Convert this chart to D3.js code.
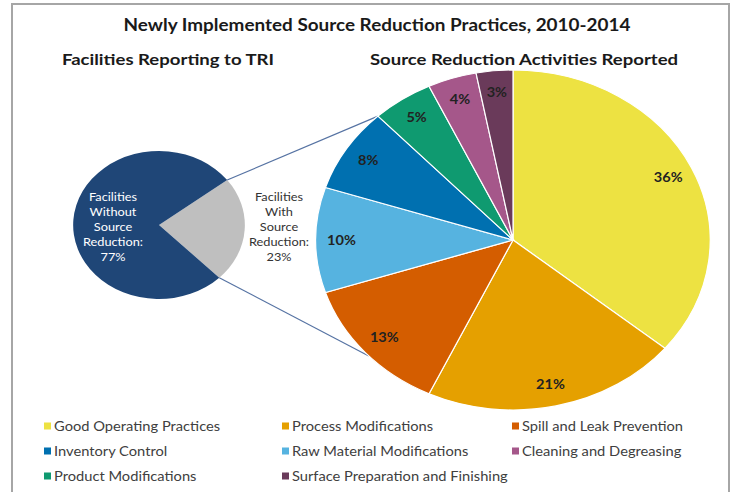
<!DOCTYPE html>
<html>
<head>
<meta charset="utf-8">
<script src="https://cdn.jsdelivr.net/npm/d3@7"></script>
<style>
  body { margin: 0; background: #fff; }
  text { font-family: Lato, "Open Sans", sans-serif; }
</style>
</head>
<body>
<script>
// ---------------------------------------------------------------
//  DATA
// ---------------------------------------------------------------
// big pie, in drawing order (clockwise from 12 o'clock)
var activities = ["Good Operating Practices", "Process Modifications", "Spill and Leak Prevention",
                  "Raw Material Modifications", "Inventory Control", "Product Modifications",
                  "Cleaning and Degreasing", "Surface Preparation and Finishing"];
var activityPct = [36, 21, 13, 10, 8, 5, 4, 3];
var activityColors = ["#ede242", "#e5a000", "#d45d00", "#56b3e0", "#0070b0", "#0f9a70", "#a5578a", "#6a3a5a"];

// legend order (row by row, 3 per row)
var legendOrder = ["Good Operating Practices", "Process Modifications", "Spill and Leak Prevention",
                   "Inventory Control", "Raw Material Modifications", "Cleaning and Degreasing",
                   "Product Modifications", "Surface Preparation and Finishing"];

// small pie
var facilityLabels = [["Facilities", "With", "Source", "Reduction:", "23%"],
                      ["Facilities", "Without", "Source", "Reduction:", "77%"]];
var facilityPct = [23, 77];
var facilityColors = ["#bfbfbf", "#1f4677"];

var title = "Newly Implemented Source Reduction Practices, 2010-2014";
var subLeft = "Facilities Reporting to TRI";
var subRight = "Source Reduction Activities Reported";

// ---------------------------------------------------------------
//  SETUP
// ---------------------------------------------------------------
var W = 734, H = 492;
var sx = 1.16; // the original picture is stretched sideways

var svg = d3.select("body").append("svg")
    .attr("width", W)
    .attr("height", H);

// puts a text at x,y and widens it like the rest of the picture
function place(x, y, k) {
    return "translate(" + x + "," + y + ") scale(" + (k || sx) + ",1)";
}

// frame
svg.append("rect")
    .attr("x", 12).attr("y", 4)
    .attr("width", 717).attr("height", 500)
    .attr("fill", "none")
    .attr("stroke", "#a6a6a6")
    .attr("stroke-width", 2);

// titles
svg.append("text")
    .attr("transform", place(377, 31))
    .attr("text-anchor", "middle")
    .style("font-size", "16.3px").style("font-weight", "bold").style("fill", "#1a1a1a")
    .text(title);
svg.append("text")
    .attr("transform", place(168, 65))
    .attr("text-anchor", "middle")
    .style("font-size", "16px").style("font-weight", "bold").style("fill", "#1a1a1a")
    .text(subLeft);
svg.append("text")
    .attr("transform", place(524, 65))
    .attr("text-anchor", "middle")
    .style("font-size", "16px").style("font-weight", "bold").style("fill", "#1a1a1a")
    .text(subRight);

// ---------------------------------------------------------------
//  SMALL PIE
// ---------------------------------------------------------------
var small = {cx: 159, cy: 225, r: 74};
var rot = 4 * Math.PI / 180;
var halfGray = Math.PI * facilityPct[0] / 100;

var smallPie = d3.pie().sort(null)
    .startAngle(Math.PI / 2 - halfGray + rot)
    .endAngle(Math.PI / 2 - halfGray + rot + 2 * Math.PI);
var smallArcs = smallPie(facilityPct);
var smallArc = d3.arc().innerRadius(0).outerRadius(small.r);

svg.append("g")
    .attr("transform", "translate(" + small.cx + "," + small.cy + ") scale(" + sx + ",1)")
    .selectAll("path")
    .data(smallArcs)
    .join("path")
        .attr("d", smallArc)
        .attr("fill", function(d, i) { return facilityColors[i]; });

// small pie labels (gray one sits outside, blue one inside)
var smallLabelPos = [{x: small.cx + 120, col: "#333"}, {x: small.cx - 46, col: "#fff"}];
facilityLabels.forEach(function(lines, i) {
    var t = svg.append("text")
        .attr("transform", place(smallLabelPos[i].x, small.cy - 24))
        .attr("text-anchor", "middle")
        .style("font-size", "11px")
        .style("fill", smallLabelPos[i].col);
    lines.forEach(function(s, j) {
        t.append("tspan")
            .attr("x", 0)
            .attr("y", j * 15)
            .text(s);
    });
});

// ---------------------------------------------------------------
//  BIG PIE
// ---------------------------------------------------------------
var big = {cx: 513, cy: 240, r: 170};
var bigPie = d3.pie().sort(null);
var bigArcs = bigPie(activityPct);
var bigArc = d3.arc().innerRadius(0).outerRadius(big.r);
var labelArc = d3.arc().innerRadius(big.r * 0.87).outerRadius(big.r * 0.87);

// connector lines: gray slice edges -> big pie rim
function pt(c, r, a) {
    return [c.cx + sx * r * Math.sin(a), c.cy - r * Math.cos(a)];
}
var links = [
    [pt(small, small.r, smallArcs[0].startAngle), pt(big, big.r, bigArcs[4].endAngle)],
    [pt(small, small.r, smallArcs[0].endAngle), pt(big, big.r, 227 * Math.PI / 180)]
];
svg.selectAll("line.link")
    .data(links)
    .join("line")
        .attr("class", "link")
        .attr("x1", function(d) { return d[0][0]; })
        .attr("y1", function(d) { return d[0][1]; })
        .attr("x2", function(d) { return d[1][0]; })
        .attr("y2", function(d) { return d[1][1]; })
        .attr("stroke", "#5673a3")
        .attr("stroke-width", 1.2);

svg.append("g")
    .attr("transform", "translate(" + big.cx + "," + big.cy + ") scale(" + sx + ",1)")
    .selectAll("path")
    .data(bigArcs)
    .join("path")
        .attr("d", bigArc)
        .attr("fill", function(d, i) { return activityColors[i]; })
        .attr("stroke", "#fff")
        .attr("stroke-width", 1.2)
        .attr("vector-effect", "non-scaling-stroke");

svg.selectAll("text.pct")
    .data(bigArcs)
    .join("text")
        .attr("class", "pct")
        .attr("transform", function(d) {
            return place(big.cx + sx * labelArc.centroid(d)[0], big.cy + labelArc.centroid(d)[1], 1.12);
        })
        .attr("dy", "0.35em")
        .attr("text-anchor", "middle")
        .style("font-size", "13px").style("font-weight", "bold").style("fill", "#222")
        .text(function(d) { return d.data + "%"; });

// ---------------------------------------------------------------
//  LEGEND
// ---------------------------------------------------------------
var colX = [44, 282, 512];
var rowY = [426, 451, 476];

var legend = svg.selectAll("g.legend")
    .data(legendOrder)
    .join("g")
        .attr("class", "legend")
        .attr("transform", function(d, i) {
            return "translate(" + colX[i % 3] + "," + rowY[Math.floor(i / 3)] + ")";
        });
legend.append("rect")
    .attr("x", 0).attr("y", -3.5)
    .attr("width", 7).attr("height", 7)
    .attr("fill", function(d) { return activityColors[activities.indexOf(d)]; });
legend.append("text")
    .attr("transform", "translate(10,0) scale(1.13,1)")
    .attr("dy", "0.35em")
    .style("font-size", "13px").style("fill", "#404040")
    .text(function(d) { return d; });
</script>
</body>
</html>
